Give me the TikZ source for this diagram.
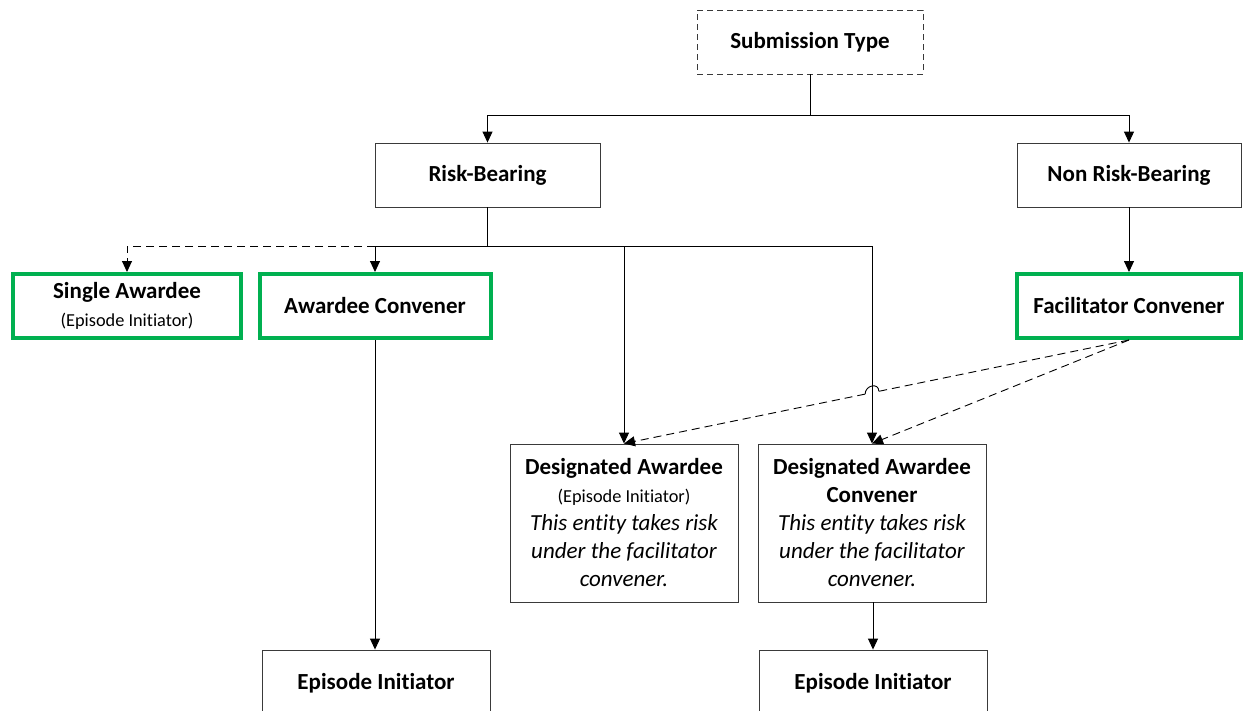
\documentclass[tikz,border=0pt]{standalone}
\usepackage{fontspec}
\setmainfont{Carlito}[Ligatures=NoCommon]
\usetikzlibrary{arrows.meta,calc}
\definecolor{kgreen}{HTML}{00B050}
\definecolor{boxgray}{HTML}{3A3A3A}
\newcommand{\smalltxt}{\fontsize{18.3}{28}\selectfont\mdseries}
\begin{document}
\begin{tikzpicture}[x=1pt,y=-1pt,
  box/.style={draw=boxgray,line width=0.9pt,minimum height=64pt,inner sep=2pt,
    font=\fontsize{23}{28}\selectfont\bfseries,align=center},
  gbox/.style={box,draw=kgreen,line width=4pt},
  conn/.style={draw=black,line width=0.9pt},
  arr/.style={conn,-{Triangle[length=11pt,width=10pt]}},
  dsh/.style={dash pattern=on 8pt off 5pt}]
\useasboundingbox (0,0) rectangle (1243,710);
% nodes
\node[box,minimum width=226pt,dash pattern=on 6pt off 4pt] (st) at (810,42) {Submission Type};
\node[box,minimum width=225pt] (rb) at (487.5,175) {Risk-Bearing};
\node[box,minimum width=224pt] (nrb) at (1129,175) {Non Risk-Bearing};
\node[gbox,minimum width=228pt] (sa) at (127,306) {Single Awardee\\[0pt]{\smalltxt (Episode Initiator)}};
\node[gbox,minimum width=231pt] (ac) at (375,306) {Awardee Convener};
\node[gbox,minimum width=224pt] (fc) at (1129,306) {Facilitator Convener};
\node[box,minimum width=228pt,minimum height=158pt] (da) at (624,523)
  {Designated Awardee\\{\smalltxt (Episode Initiator)}\\
   {\mdseries\itshape This entity takes risk}\\{\mdseries\itshape under the facilitator}\\{\mdseries\itshape convener.}};
\node[box,minimum width=228pt,minimum height=158pt] (dac) at (872,523)
  {Designated Awardee\\Convener\\
   {\mdseries\itshape This entity takes risk}\\{\mdseries\itshape under the facilitator}\\{\mdseries\itshape convener.}};
\node[box,minimum width=228pt,minimum height=66pt] (ei1) at (376,683) {Episode Initiator};
\node[box,minimum width=228pt,minimum height=66pt] (ei2) at (873,683) {Episode Initiator};
% junctions
\coordinate (j1) at (810,115);
\coordinate (j2) at (487.5,246);
% connectors
\draw[conn] (st.south) -- (j1);
\draw[arr] (j1) -| (rb.north);
\draw[arr] (j1) -| (nrb.north);
\draw[conn] (rb.south) -- (j2);
\draw[arr] (j2) -| (ac.north);
\draw[arr] (j2) -| (da.north);
\draw[arr] (j2) -| (dac.north);
\draw[arr,dsh] (ac.north |- j2) -| (sa.north);
\draw[arr] (nrb.south) -- (fc.north);
\draw[arr] (ac.south) -- (ac.south |- ei1.north);
\draw[arr] (dac.south -| ei2.north) -- (ei2.north);
% dashed from facilitator convener, with a hop over the vertical line
\coordinate (X) at (intersection of fc.south--da.north and dac.north--j2 -| dac.north);
\coordinate (hR) at ($(X)!7pt!(fc.south)$);
\coordinate (hL) at ($(X)!7pt!(da.north)$);
\draw[conn,dsh] (fc.south) -- (hR);
\draw[conn] (hR) .. controls ($(hR)+(0,-9)$) and ($(hL)+(0,-9)$) .. (hL);
\draw[arr,dsh] (hL) -- (da.north);
\draw[arr,dsh] (fc.south) -- (dac.north);
\end{tikzpicture}
\end{document}
